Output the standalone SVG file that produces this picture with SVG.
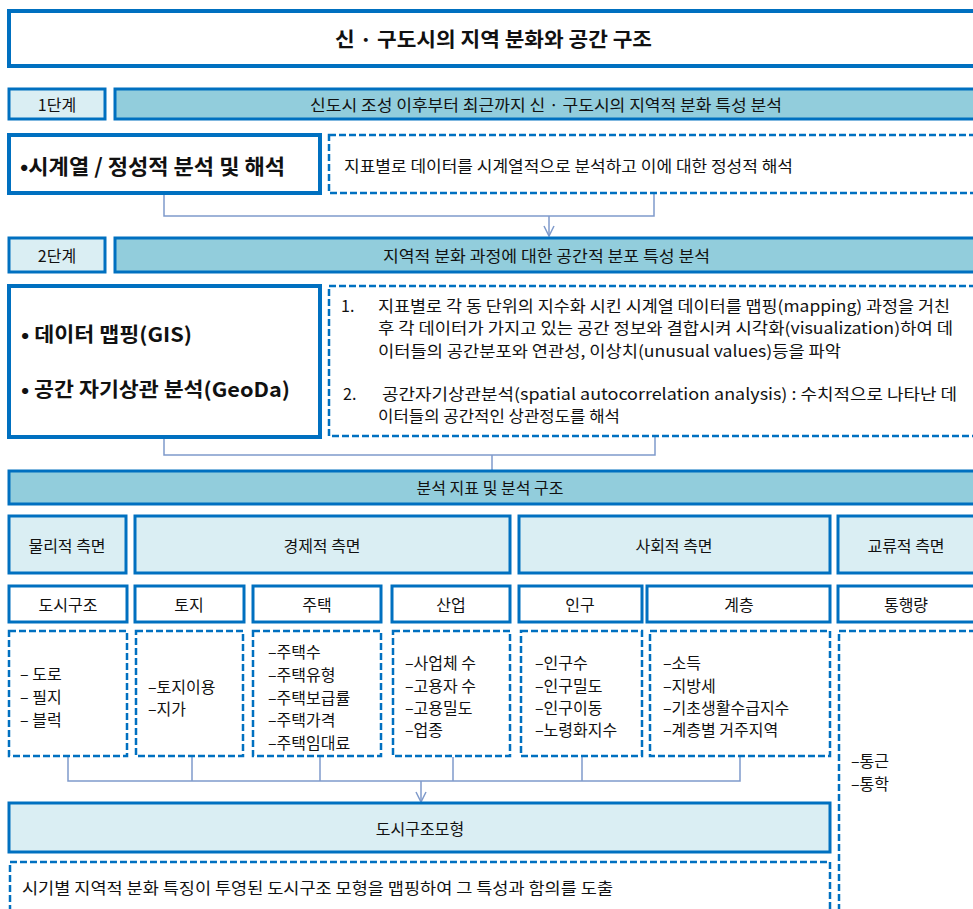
<svg xmlns="http://www.w3.org/2000/svg" width="973" height="909" viewBox="0 0 973 909">
<style>
  text { font-family: "Noto Sans CJK KR", "Noto Sans", sans-serif; fill: #111; }
  .t15 { font-size: 16px; }
  .c { text-anchor: middle; dominant-baseline: central; }
  .b { font-weight: bold; }
  .solid { fill: #fff; stroke: #0070C0; stroke-width: 3; }
  .thick { fill: #fff; stroke: #0070C0; stroke-width: 4; }
  .hdr { fill: #92CDDC; stroke: #0070C0; stroke-width: 3; }
  .lt { fill: #DAEEF3; stroke: #0070C0; stroke-width: 3; }
  .dash { fill: #fff; stroke: #0070C0; stroke-width: 2.5; stroke-dasharray: 7 3; }
  .conn { fill: none; stroke: #7F9ACB; stroke-width: 1.5; }
</style>
<defs>
  <marker id="arr" viewBox="0 0 12 12" refX="11" refY="6" markerWidth="12" markerHeight="12" markerUnits="userSpaceOnUse" orient="auto">
    <polyline points="1,1 11,6 1,11" fill="none" stroke="#7F9ACB" stroke-width="1.5"/>
  </marker>
</defs>
<rect width="973" height="909" fill="#fff"/>

<g id="connectors">
  <polyline class="conn" points="164,194 164,216 654,216 654,194"/>
  <line class="conn" x1="549" y1="216" x2="549" y2="236" marker-end="url(#arr)"/>
  <polyline class="conn" points="164,438 164,455 655,455 655,437"/>
  <line class="conn" x1="492" y1="455" x2="492" y2="470"/>
  <polyline class="conn" points="68,757 68,781 740,781 740,757"/>
  <line class="conn" x1="192" y1="757" x2="192" y2="781"/>
  <line class="conn" x1="320" y1="757" x2="320" y2="781"/>
  <line class="conn" x1="453" y1="757" x2="453" y2="781"/>
  <line class="conn" x1="582" y1="757" x2="582" y2="781"/>
  <line class="conn" x1="421" y1="781" x2="421" y2="802" marker-end="url(#arr)"/>
</g>

<g id="title">
  <rect x="9" y="11" width="980" height="55" class="thick"/>
  <text x="335" y="38" class="b" font-size="20" dominant-baseline="central" textLength="317" lengthAdjust="spacingAndGlyphs">신 · 구도시의  지역 분화와 공간 구조</text>
</g>

<g id="step1-label">
  <rect x="9" y="89" width="96" height="30" class="lt"/>
  <text x="57" y="104" class="c t15">1단계</text>
</g>
<g id="step1-header">
  <rect x="115" y="89" width="870" height="30" class="hdr"/>
  <text x="310" y="104" class="t15" dominant-baseline="central" textLength="472" lengthAdjust="spacingAndGlyphs">신도시 조성 이후부터 최근까지 신 · 구도시의 지역적 분화 특성 분석</text>
</g>
<g id="step1-method">
  <rect x="9" y="135" width="311" height="58" class="thick"/>
  <text x="20" y="165" class="b" font-size="21" dominant-baseline="central" textLength="265" lengthAdjust="spacingAndGlyphs">•시계열 / 정성적 분석 및 해석</text>
</g>
<g id="step1-desc">
  <rect x="329" y="135" width="660" height="58" class="dash"/>
  <text x="344" y="165" class="t15" dominant-baseline="central" textLength="449" lengthAdjust="spacingAndGlyphs">지표별로 데이터를 시계열적으로 분석하고 이에 대한 정성적 해석</text>
</g>

<g id="step2-label">
  <rect x="9" y="238" width="96" height="34" class="lt"/>
  <text x="57" y="255" class="c t15">2단계</text>
</g>
<g id="step2-header">
  <rect x="115" y="238" width="870" height="34" class="hdr"/>
  <text x="383" y="255" class="t15" dominant-baseline="central" textLength="327" lengthAdjust="spacingAndGlyphs">지역적 분화 과정에 대한 공간적 분포 특성 분석</text>
</g>
<g id="step2-method">
  <rect x="9" y="286" width="311" height="151" class="thick"/>
  <text x="21" y="333" class="b" font-size="20" dominant-baseline="central" textLength="171" lengthAdjust="spacingAndGlyphs">• 데이터 맵핑(GIS)</text>
  <text x="21" y="388" class="b" font-size="20" dominant-baseline="central" textLength="269" lengthAdjust="spacingAndGlyphs">• 공간 자기상관 분석(GeoDa)</text>
</g>
<g id="step2-desc">
  <rect x="329" y="286" width="660" height="150" class="dash"/>
  <g class="t15" dominant-baseline="central">
    <text x="341" y="305">1.</text>
    <text x="378" y="305" textLength="572" lengthAdjust="spacingAndGlyphs">지표별로 각 동 단위의 지수화 시킨 시계열 데이터를 맵핑(mapping) 과정을 거친</text>
    <text x="378" y="327" textLength="575" lengthAdjust="spacingAndGlyphs">후 각 데이터가 가지고 있는 공간 정보와 결합시켜 시각화(visualization)하여 데</text>
    <text x="378" y="350" textLength="463" lengthAdjust="spacingAndGlyphs">이터들의 공간분포와 연관성, 이상치(unusual values)등을 파악</text>
    <text x="343" y="393">2.</text>
    <text x="382" y="393" textLength="575" lengthAdjust="spacingAndGlyphs">공간자기상관분석(spatial autocorrelation analysis) : 수치적으로 나타난 데</text>
    <text x="378" y="415" textLength="242" lengthAdjust="spacingAndGlyphs">이터들의 공간적인 상관정도를 해석</text>
  </g>
</g>

<g id="analysis-header">
  <rect x="9" y="471" width="980" height="33" class="hdr"/>
  <text x="490" y="487" class="c t15">분석 지표 및 분석 구조</text>
</g>

<g id="aspect-physical">
  <rect x="9" y="516" width="117" height="57" class="lt"/>
  <text x="67" y="545" class="c t15">물리적 측면</text>
</g>
<g id="aspect-economic">
  <rect x="135" y="516" width="375" height="57" class="lt"/>
  <text x="322" y="545" class="c t15">경제적 측면</text>
</g>
<g id="aspect-social">
  <rect x="519" y="516" width="311" height="57" class="lt"/>
  <text x="674" y="545" class="c t15">사회적 측면</text>
</g>
<g id="aspect-exchange">
  <rect x="838" y="516" width="150" height="57" class="lt"/>
  <text x="906" y="545" class="c t15">교류적 측면</text>
</g>

<g id="sub-urban">
  <rect x="9" y="586" width="118" height="36" class="solid"/>
  <text x="68" y="604" class="c t15">도시구조</text>
</g>
<g id="sub-land">
  <rect x="135" y="586" width="109" height="36" class="solid"/>
  <text x="189" y="604" class="c t15">토지</text>
</g>
<g id="sub-housing">
  <rect x="253" y="586" width="128" height="36" class="solid"/>
  <text x="317" y="604" class="c t15">주택</text>
</g>
<g id="sub-industry">
  <rect x="392" y="586" width="118" height="36" class="solid"/>
  <text x="451" y="604" class="c t15">산업</text>
</g>
<g id="sub-population">
  <rect x="519" y="586" width="123" height="36" class="solid"/>
  <text x="580" y="604" class="c t15">인구</text>
</g>
<g id="sub-class">
  <rect x="647" y="586" width="183" height="36" class="solid"/>
  <text x="739" y="604" class="c t15">계층</text>
</g>
<g id="sub-traffic">
  <rect x="838" y="586" width="150" height="36" class="solid"/>
  <text x="906" y="604" class="c t15">통행량</text>
</g>

<g id="items-urban">
  <rect x="9" y="631" width="118" height="125" class="dash"/>
  <g class="t15" dominant-baseline="central">
    <text x="20" y="673">– 도로</text>
    <text x="20" y="696">– 필지</text>
    <text x="20" y="719">– 블럭</text>
  </g>
</g>
<g id="items-land">
  <rect x="136" y="631" width="107" height="125" class="dash"/>
  <g class="t15" dominant-baseline="central">
    <text x="148" y="686">–토지이용</text>
    <text x="148" y="708">–지가</text>
  </g>
</g>
<g id="items-housing">
  <rect x="253" y="631" width="128" height="125" class="dash"/>
  <g class="t15" dominant-baseline="central">
    <text x="268" y="651">–주택수</text>
    <text x="268" y="674">–주택유형</text>
    <text x="268" y="697">–주택보급률</text>
    <text x="268" y="719">–주택가격</text>
    <text x="268" y="742">–주택임대료</text>
  </g>
</g>
<g id="items-industry">
  <rect x="393" y="631" width="117" height="125" class="dash"/>
  <g class="t15" dominant-baseline="central">
    <text x="405" y="662">–사업체 수</text>
    <text x="405" y="685">–고용자 수</text>
    <text x="405" y="707">–고용밀도</text>
    <text x="405" y="729">–업종</text>
  </g>
</g>
<g id="items-population">
  <rect x="521" y="631" width="121" height="125" class="dash"/>
  <g class="t15" dominant-baseline="central">
    <text x="535" y="662">–인구수</text>
    <text x="535" y="685">–인구밀도</text>
    <text x="535" y="707">–인구이동</text>
    <text x="535" y="729">–노령화지수</text>
  </g>
</g>
<g id="items-class">
  <rect x="650" y="631" width="180" height="125" class="dash"/>
  <g class="t15" dominant-baseline="central">
    <text x="663" y="662">–소득</text>
    <text x="663" y="685">–지방세</text>
    <text x="663" y="707">–기초생활수급지수</text>
    <text x="663" y="729">–계층별 거주지역</text>
  </g>
</g>
<g id="items-traffic">
  <rect x="839" y="631" width="150" height="300" class="dash"/>
  <g class="t15" dominant-baseline="central">
    <text x="851" y="760">–통근</text>
    <text x="851" y="783">–통학</text>
  </g>
</g>

<g id="urban-model">
  <rect x="9" y="803" width="821" height="49" class="lt" stroke-width="3.5"/>
  <text x="420" y="828" class="c t15">도시구조모형</text>
</g>
<g id="conclusion">
  <rect x="10" y="862" width="820" height="60" class="dash"/>
  <text x="22" y="887" class="t15" dominant-baseline="central" textLength="591" lengthAdjust="spacingAndGlyphs">시기별 지역적 분화 특징이 투영된 도시구조 모형을  맵핑하여 그 특성과 함의를 도출</text>
</g>
</svg>
